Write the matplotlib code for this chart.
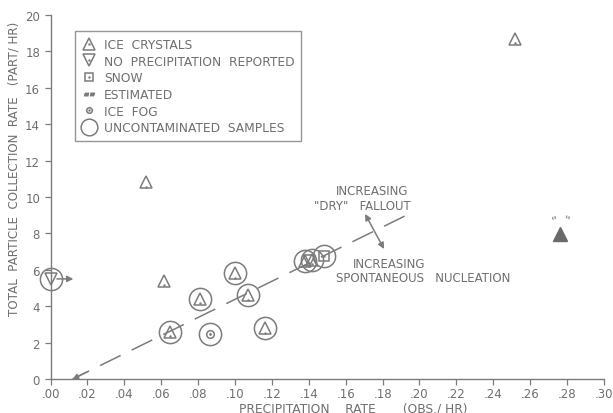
import numpy as np
import matplotlib.pyplot as plt
from matplotlib.lines import Line2D

# dati
ic_circ_x = [0.065, 0.081, 0.100, 0.107, 0.1163, 0.138, 0.142]
ic_circ_y = [2.6, 4.4, 5.8, 4.6, 2.8, 6.5, 6.55]
ic_x = [0.0518, 0.0615, 0.2519]
ic_y = [10.8, 5.4, 18.7]
est_x = [0.2763]
est_y = [7.95]
noprec_x = [0.0, 0.140]
noprec_y = [5.5, 6.5]
snow_x = [0.148]
snow_y = [6.75]
fog_x = [0.0865]
fog_y = [2.45]
trend_x = [0.012, 0.197]
trend_y = [0.0, 9.2]

xticks = np.arange(0, 0.31, 0.02)
xticklabels = ['.00', '.02', '.04', '.06', '.08', '.10', '.12', '.14', '.16',
               '.18', '.20', '.22', '.24', '.26', '.28', '.30']
yticks = np.arange(0, 21, 2)

gray = '#6f6f6f'
lgray = '#7c7c7c'
plt.rcParams['font.family'] = 'DejaVu Sans'
plt.rcParams['font.size'] = 8

fig = plt.figure(figsize=(6.13, 4.14), dpi=100)
ax = fig.add_axes([0.0824, 0.0821, 0.9029, 0.8793])

ax.set_xlim(0, 0.30)
ax.set_ylim(0, 20)
for s in ['top', 'right']:
    ax.spines[s].set_visible(False)
for s in ['left', 'bottom']:
    ax.spines[s].set_color(lgray)
    ax.spines[s].set_linewidth(1.0)
ax.set_xticks(xticks)
ax.set_xticklabels(xticklabels)
ax.set_yticks(yticks)
ax.tick_params(colors=lgray, labelcolor=gray, length=4, width=0.9, labelsize=8.5)
ax.tick_params(axis='x', pad=2)

mk = dict(linestyle='none', markerfacecolor='none', markeredgecolor=lgray,
          markeredgewidth=1.1, clip_on=False, zorder=3)

# cerchi dei campioni non contaminati
circ_x = ic_circ_x + snow_x + fog_x + [noprec_x[0]]
circ_y = ic_circ_y + snow_y + fog_y + [noprec_y[0]]
ax.plot(circ_x, circ_y, marker='o', markersize=16, **mk)

# cristalli di ghiaccio
ax.plot(ic_circ_x + ic_x, ic_circ_y + ic_y, marker='^', markersize=8.5, **mk)
ax.plot(ic_circ_x + ic_x, np.array(ic_circ_y + ic_y) - 0.25, marker='.', markersize=1.5,
        linestyle='none', color=lgray, zorder=4)

# stimato
ax.plot(est_x, est_y, marker='^', markersize=9.5, linestyle='none', color='#6a6a6a', zorder=3)
ax.text(est_x[0] - 0.0028, est_y[0] + 0.35, '"', ha='center', va='bottom', color=gray,
        fontsize=9, rotation=20)
ax.text(est_x[0] + 0.0028, est_y[0] + 0.35, '"', ha='center', va='bottom', color=gray,
        fontsize=9, rotation=-20)

# nessuna precipitazione
ax.plot(noprec_x, noprec_y, marker='v', markersize=8.5, **mk)

# neve
ax.plot(snow_x, snow_y, marker='s', markersize=6.5, **mk)
ax.plot(snow_x, snow_y, marker='.', markersize=1.5, linestyle='none', color=lgray, zorder=4)

# nebbia di ghiaccio
ax.plot(fog_x, fog_y, marker='o', markersize=5.5, **mk)
ax.plot(fog_x, fog_y, marker='.', markersize=2, linestyle='none', color=lgray, zorder=4)

# freccia dal punto a x=0
ax.annotate('', xy=(0.0124, noprec_y[0]), xytext=(0.0035, noprec_y[0]),
            arrowprops=dict(arrowstyle='-|>', color=lgray, lw=1.1, mutation_scale=9,
                            shrinkA=0, shrinkB=0), annotation_clip=False)

# linea tratteggiata di tendenza
ax.plot(trend_x, trend_y, linestyle=(3, (15, 8)), color=lgray, lw=1.1, zorder=2)
ax.annotate('', xy=(trend_x[0], trend_y[0]), xytext=(0.02, 0.4),
            arrowprops=dict(arrowstyle='-|>', color=lgray, lw=1.0, mutation_scale=8,
                            shrinkA=0, shrinkB=0))

# freccia doppia
ax.annotate('', xy=(0.1705, 9.07), xytext=(0.1808, 7.14),
            arrowprops=dict(arrowstyle='<|-|>', color=lgray, lw=1.1, mutation_scale=9,
                            shrinkA=0, shrinkB=0))

ax.text(0.1938, 10.35, 'INCREASING', ha='right', va='center', color=gray, fontsize=8.5)
ax.text(0.1955, 9.52, '"DRY"   FALLOUT', ha='right', va='center', color=gray, fontsize=8.5)
ax.text(0.164, 6.32, 'INCREASING', ha='left', va='center', color=gray, fontsize=8.5)
ax.text(0.1546, 5.59, 'SPONTANEOUS   NUCLEATION', ha='left', va='center', color=gray,
        fontsize=8.5)

# legenda
lmk = dict(linestyle='none', markerfacecolor='none', markeredgecolor=lgray, markeredgewidth=1.1)
dot = Line2D([], [], linestyle='none', marker='.', markersize=1.5, color=lgray)
handles = [
    (Line2D([], [], marker='^', markersize=8, **lmk), dot),
    (Line2D([], [], marker='v', markersize=8, **lmk), dot),
    (Line2D([], [], marker='s', markersize=6, **lmk), dot),
    Line2D([], [], marker='$\u201c\u201d$', markersize=7, linestyle='none', color=lgray),
    (Line2D([], [], marker='o', markersize=4, **lmk), dot),
    Line2D([], [], marker='o', markersize=12, **lmk),
]
labels = ['ICE  CRYSTALS', 'NO  PRECIPITATION  REPORTED', 'SNOW', 'ESTIMATED',
          'ICE  FOG', 'UNCONTAMINATED  SAMPLES']
leg = ax.legend(handles, labels, loc='upper left', bbox_to_anchor=(0.0443, 0.955),
                borderaxespad=0, fancybox=False, edgecolor=lgray, fontsize=8.8,
                handlelength=1.2, handletextpad=0.6, labelspacing=0.3,
                borderpad=0.55, frameon=True)
leg.get_frame().set_linewidth(1.0)
for t in leg.get_texts():
    t.set_color(gray)

fig.text(0.0228, 0.592, 'TOTAL  PARTICLE  COLLECTION  RATE   (PART/ HR)', rotation=90,
         ha='center', va='center', color=gray, fontsize=8.6)
fig.text(0.576, 0.012, 'PRECIPITATION    RATE       (OBS./ HR)', ha='center', va='center',
         color=gray, fontsize=8.8)

plt.savefig('out.png', dpi=100, facecolor='white')
